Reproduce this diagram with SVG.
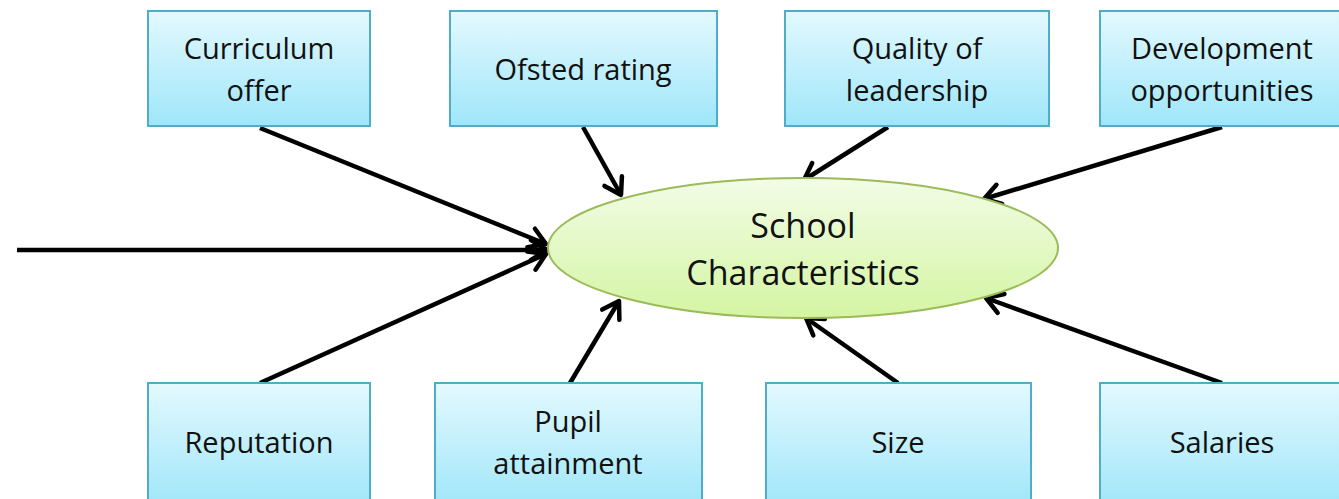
<svg xmlns="http://www.w3.org/2000/svg" width="1339" height="499" viewBox="0 0 1339 499">
<defs>
<linearGradient id="gb" x1="0" y1="0" x2="0" y2="1"><stop offset="0" stop-color="#e3f9fe"/><stop offset="1" stop-color="#9fe6f9"/></linearGradient>
<linearGradient id="gg" x1="0" y1="0" x2="0" y2="1"><stop offset="0" stop-color="#f2fce6"/><stop offset="1" stop-color="#d4f5a3"/></linearGradient>
<marker id="ah" markerUnits="userSpaceOnUse" markerWidth="30" markerHeight="30" refX="20" refY="12" orient="auto" viewBox="0 0 30 24">
<path d="M4,2 L20,12 L4,22" fill="none" stroke="#000" stroke-width="4.5" stroke-linecap="round" stroke-linejoin="round"/>
</marker>
<style>
.box{fill:url(#gb);stroke:#4fadc8;stroke-width:2}
.t{font-family:"Open Sans","Liberation Sans",sans-serif;font-size:29px;fill:#111;text-anchor:middle}
.big{font-size:34px}
.c{stroke:#000;stroke-width:4.5;fill:none;marker-end:url(#ah)}
</style>
</defs>
<g id="connectors">
<line class="c" x1="17" y1="250" x2="547" y2="250"/>
<line class="c" x1="260" y1="128" x2="546" y2="244"/>
<line class="c" x1="583" y1="127" x2="621" y2="195"/>
<line class="c" x1="888" y1="127" x2="804" y2="180"/>
<line class="c" x1="1222" y1="127" x2="984" y2="199"/>
<line class="c" x1="260" y1="383" x2="546" y2="254"/>
<line class="c" x1="570" y1="383" x2="619" y2="301"/>
<line class="c" x1="898" y1="383" x2="806" y2="318"/>
<line class="c" x1="1222" y1="383" x2="986" y2="298"/>
</g>
<g id="center">
<ellipse cx="803" cy="248" rx="255" ry="70" fill="url(#gg)" stroke="#9bbb59" stroke-width="2"/>
<text class="t big" x="803" y="238">School</text>
<text class="t big" x="803" y="285">Characteristics</text>
</g>
<g id="curriculum"><rect class="box" x="148" y="11" width="222" height="115"/><text class="t" x="259" y="59">Curriculum</text><text class="t" x="259" y="101">offer</text></g>
<g id="ofsted"><rect class="box" x="450" y="11" width="267" height="115"/><text class="t" x="583" y="80">Ofsted rating</text></g>
<g id="quality"><rect class="box" x="785" y="11" width="264" height="115"/><text class="t" x="917" y="59">Quality of</text><text class="t" x="917" y="101">leadership</text></g>
<g id="development"><rect class="box" x="1100" y="11" width="245" height="115"/><text class="t" x="1222" y="59">Development</text><text class="t" x="1222" y="101">opportunities</text></g>
<g id="reputation"><rect class="box" x="148" y="383" width="222" height="125"/><text class="t" x="259" y="453">Reputation</text></g>
<g id="pupil"><rect class="box" x="435" y="383" width="267" height="125"/><text class="t" x="568" y="432">Pupil</text><text class="t" x="568" y="474">attainment</text></g>
<g id="size"><rect class="box" x="766" y="383" width="265" height="125"/><text class="t" x="898" y="453">Size</text></g>
<g id="salaries"><rect class="box" x="1100" y="383" width="245" height="125"/><text class="t" x="1222" y="453">Salaries</text></g>
</svg>
